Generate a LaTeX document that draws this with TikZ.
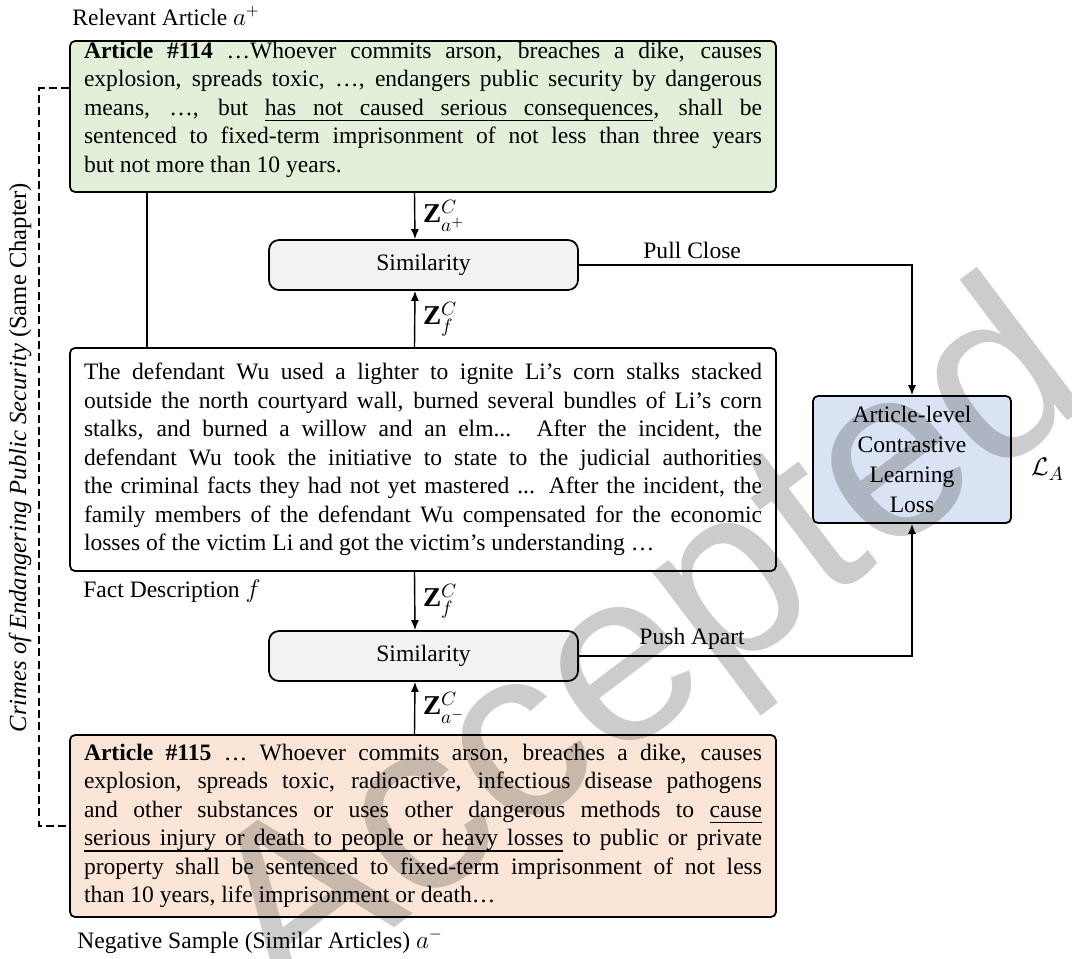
\documentclass[tikz,border=0pt]{standalone}
\usepackage{fontspec}
\setmainfont{Liberation Serif}
\newfontfamily\wmfont{Liberation Sans}
\usepackage{amsmath}
\usetikzlibrary{positioning}
\usetikzlibrary{arrows.meta}
\definecolor{artgreen}{HTML}{E2F0D9}
\definecolor{artred}{HTML}{FBE5D6}
\definecolor{lossblue}{HTML}{DAE3F3}
\definecolor{simgray}{HTML}{F2F2F2}
% underlined word and underlined stretchable space
\newcommand\ulw[1]{\setbox0\hbox{#1}\rlap{\vrule height -2.6pt depth 3.4pt width \wd0}\box0\relax}
\newcommand\ulsp{\leaders\hrule height -2.6pt depth 3.4pt\hskip\fontdimen2\font plus\fontdimen3\font minus\fontdimen4\font}

\begin{document}
\begin{tikzpicture}[>={Latex[length=2mm,width=1.6mm]},
    every node/.style={font=\fontsize{13.4}{16.2}\selectfont},
    txtbox/.style={draw, rectangle, rounded corners=0.1cm, line width=1pt, text width=13.56cm, align=justify, inner xsep=0.28cm},
    simbox/.style={draw, rectangle, rounded corners=0.2cm, fill=simgray, line width=1pt, minimum width=6.18cm, minimum height=1cm},
    zlbl/.style={font=\fontsize{15.5}{18}\selectfont},
    lbl/.style={inner sep=0pt, anchor=base west}]
    \useasboundingbox (0,0) rectangle (21.44,-19.16);

    \node[txtbox, fill=artgreen, inner ysep=0pt, minimum height=3.02cm] (relart) at (8.46,-2.33) {\textbf{Article \#114} …Whoever commits arson, breaches a dike, causes\linebreak explosion, spreads toxic, …, endangers public security by dangerous\linebreak means, …, but \ulw{has}\ulsp\ulw{not}\ulsp\ulw{caused}\ulsp\ulw{serious}\ulsp\ulw{consequences}, shall be\linebreak sentenced to fixed-term imprisonment of not less than three years\linebreak but not more than 10 years.\par\nointerlineskip\vbox to 0.28cm{}};
    \node[txtbox, fill=white, minimum height=4.46cm] (fact) at (8.46,-9.19) {The defendant Wu used a lighter to ignite Li's corn stalks stacked\linebreak outside the north courtyard wall, burned several bundles of Li's corn\linebreak stalks, and burned a willow and an elm... After the incident, the\linebreak defendant Wu took the initiative to state to the judicial authorities\linebreak the criminal facts they had not yet mastered ... After the incident, the\linebreak family members of the defendant Wu compensated for the economic\linebreak losses of the victim Li and got the victim's understanding …};
    \node[txtbox, fill=artred, minimum height=3.64cm] (negart) at (8.46,-16.52) {\textbf{Article \#115} … Whoever commits arson, breaches a dike, causes\linebreak explosion, spreads toxic, radioactive, infectious disease pathogens\linebreak and other substances or uses other dangerous methods to \ulw{cause}\linebreak \ulw{serious}\ulsp\ulw{injury}\ulsp\ulw{or}\ulsp\ulw{death}\ulsp\ulw{to}\ulsp\ulw{people}\ulsp\ulw{or}\ulsp\ulw{heavy}\ulsp\ulw{losses} to public or private\linebreak property shall be sentenced to fixed-term imprisonment of not less\linebreak than 10 years, life imprisonment or death…};

    \node[simbox] (simpos) at (8.47,-5.30) {Similarity};
    \node[simbox] (simneg) at (8.47,-13.12) {Similarity};
    \node[draw, rectangle, rounded corners=0.1cm, line width=1pt, fill=lossblue, minimum width=3.96cm, minimum height=2.54cm, align=center, font=\fontsize{13.4}{17}\selectfont] (loss) at (18.24,-9.19) {Article-level\\Contrastive\\Learning\\Loss};
    \node[zlbl, right=0.26cm of loss, yshift=-0.2cm] (losslbl) {$\mathcal{L}_A$};

    \node[lbl] (rellbl) at (1.44,-0.50) {Relevant Article $a^+$};
    \node[lbl] (factlbl) at (1.66,-11.94) {Fact Description $f$};
    \node[lbl] (neglbl) at (1.54,-18.96) {Negative Sample (Similar Articles) $a^-$};
    \node[rotate=90, font=\fontsize{14}{17}\selectfont] (chaptlbl) at (0.40,-9.15) {\textit{Crimes of Endangering Public Security} (Same Chapter)};

    % vectors into the two similarity blocks
    \draw[->,thick] ([xshift=-0.17cm]relart.south) -- node[zlbl, right=1pt] {$\mathbf{Z}^{C}_{a^+}$} ([xshift=-0.17cm]simpos.north);
    \draw[->,thick] ([xshift=-0.17cm]fact.north) -- node[zlbl, right=1pt] {$\mathbf{Z}^{C}_{f}$} ([xshift=-0.17cm]simpos.south);
    \draw[->,thick] ([xshift=-0.17cm]fact.south) -- node[zlbl, right=1pt] {$\mathbf{Z}^{C}_{f}$} ([xshift=-0.17cm]simneg.north);
    \draw[->,thick] ([xshift=-0.17cm]negart.north) -- node[zlbl, right=1pt] {$\mathbf{Z}^{C}_{a^-}$} ([xshift=-0.17cm]simneg.south);
    \draw[thick] ([xshift=-5.52cm]relart.south) -- ([xshift=-5.52cm]fact.north);

    \draw[->,thick] (simpos.east) -| node[pos=0.17, above] {Pull Close} (loss.north);
    \draw[->,thick] (simneg.east) -| node[pos=0.17, above] {Push Apart} (loss.south);

    % same chapter
    \draw[thick, dash pattern=on 4.5pt off 2.5pt] ([yshift=0.57cm]relart.west) -- ++(-0.6,0) |- (negart.west);

    \node[rotate=37, text=black, text opacity=0.2, font=\wmfont\fontsize{139}{139}\selectfont] (wmark) at (13.05,-13.1) {Accepted};
\end{tikzpicture}
\end{document}
